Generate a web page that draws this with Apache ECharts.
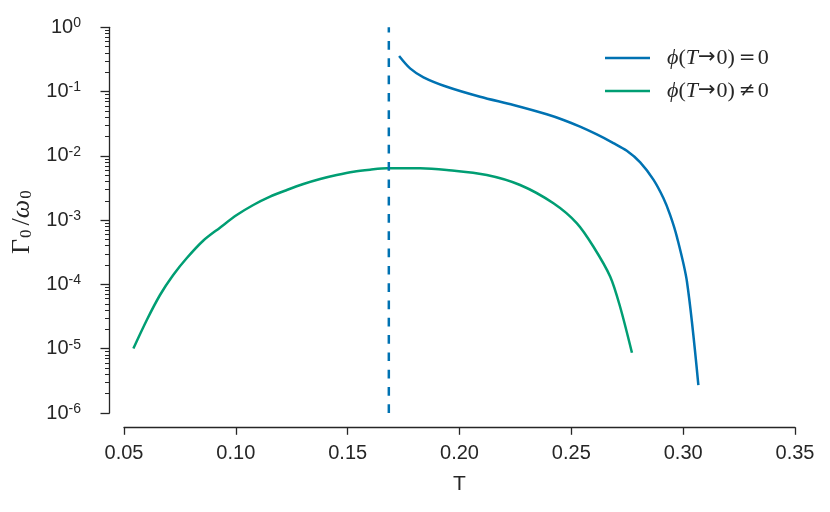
<!DOCTYPE html>
<html>
<head>
<meta charset="utf-8">
<title>Gamma0 / omega0 vs T</title>
<script src="https://cdn.jsdelivr.net/npm/echarts@6/dist/echarts.min.js"></script>
<style>
  html, body { margin: 0; padding: 0; background: #fff; }
  #chart { width: 830px; height: 512px; }
</style>
</head>
<body>
<div id="chart"></div>
<script>
// values
const tBlue = [0.1730, 0.1779, 0.1839, 0.1943, 0.2092, 0.2241, 0.2390, 0.2465, 0.2539, 0.2614,
  0.2688, 0.2748, 0.2808, 0.2867, 0.2912, 0.2942, 0.2972, 0.3017, 0.3068];
const rateBlue = [0.358, 0.230, 0.167, 0.119, 0.0832, 0.0618, 0.0443, 0.0361, 0.0284, 0.0215,
  0.0158, 0.0120, 0.00794, 0.00427, 0.00219, 0.00120, 0.000550, 0.000110, 0.00000272];

const tGreen = [0.0542, 0.0602, 0.0661, 0.0720, 0.0780, 0.0855, 0.0929, 0.1004, 0.1078,
  0.1153, 0.1228, 0.1302, 0.1377, 0.1451, 0.1526, 0.1600, 0.1675, 0.1824, 0.1943,
  0.2122, 0.2271, 0.2420, 0.2525, 0.2599, 0.2674, 0.2718, 0.2771];
const rateGreen = [1.01e-5, 2.80e-5, 6.85e-5, 1.40e-4, 2.55e-4, 4.82e-4, 7.64e-4, 1.20e-3, 1.72e-3,
  2.32e-3, 2.94e-3, 3.65e-3, 4.37e-3, 5.04e-3, 5.68e-3, 6.10e-3, 6.41e-3, 6.41e-3, 6.03e-3,
  5.04e-3, 3.52e-3, 1.83e-3, 8.93e-4, 3.86e-4, 1.32e-4, 4.50e-5, 8.67e-6];

const tCritical = 0.1684;
const criticalSpan = [1e-6, 1];

const xTicks = [0.05, 0.10, 0.15, 0.20, 0.25, 0.30, 0.35];
const yDecades = [-6, -5, -4, -3, -2, -1, 0];

const seriesNames = ['ϕ(T→0)=0', 'ϕ(T→0)≠0'];
const legendLabels = [
  '{p|ϕ}{r|(}{i|T}{a|→}{r|0)}{op|=}{r|0}',
  '{p|ϕ}{r|(}{i|T}{a|→}{r|0)}{op|≠}{r|0}'
];

const blue = '#0072B2';
const green = '#009E73';
const ink = '#262626';
const serif = 'Liberation Serif';

// matplotlib-style minor ticks 2..9 in every decade
const minorTicks = [];
for (let e = yDecades[0]; e < yDecades[yDecades.length - 1]; e++) {
  for (let k = 2; k <= 9; k++) minorTicks.push(k * Math.pow(10, e));
}

const chart = echarts.init(document.getElementById('chart'));

const yBase = {
  type: 'log',
  logBase: 10,
  min: Math.pow(10, yDecades[0]),
  max: Math.pow(10, yDecades[yDecades.length - 1]),
  interval: 1,
  position: 'left',
  offset: 14.5,
  splitLine: { show: false }
};

const option = {
  animation: false,
  backgroundColor: '#fff',
  grid: { left: 124, right: 35, top: 27.3, bottom: 99, containLabel: false, outerBoundsMode: 'none' },
  legend: {
    data: seriesNames,
    orient: 'vertical',
    left: 600,
    top: 42,
    icon: 'rect',
    itemWidth: 45,
    itemHeight: 2.5,
    itemGap: 11,
    formatter: name => legendLabels[seriesNames.indexOf(name)],
    textStyle: {
      color: ink,
      rich: {
        p: { fontFamily: serif, fontStyle: 'italic', fontSize: 22, padding: [0, 0, 0, 12] },
        i: { fontFamily: serif, fontStyle: 'italic', fontSize: 22 },
        r: { fontFamily: serif, fontSize: 22 },
        a: { fontFamily: 'DejaVu Sans', fontSize: 21, padding: [0, 1, 0, 0] },
        op: { fontFamily: 'DejaVu Sans', fontSize: 20, padding: [0, 2, 0, 4] }
      }
    }
  },
  xAxis: {
    type: 'value',
    min: xTicks[0],
    max: xTicks[xTicks.length - 1],
    interval: 0.05,
    offset: 14.3,
    name: 'T',
    nameLocation: 'middle',
    nameGap: 46,
    nameTextStyle: { color: ink, fontSize: 21, fontFamily: 'Liberation Sans' },
    axisLine: { lineStyle: { color: ink, width: 1.3 } },
    axisTick: { length: 7.5, lineStyle: { color: ink, width: 1.3 } },
    axisLabel: {
      margin: 16,
      color: ink,
      fontSize: 20,
      fontFamily: 'Liberation Sans',
      formatter: v => v.toFixed(2)
    },
    splitLine: { show: false }
  },
  yAxis: [
    Object.assign({}, yBase, {
      name: '{g|Γ}{s|0}{g|/}{w|ω}{s|0}',
      nameLocation: 'middle',
      nameGap: 70,
      nameTextStyle: {
        color: ink,
        rich: {
          g: { fontFamily: serif, fontSize: 26, lineHeight: 26 },
          w: { fontFamily: serif, fontStyle: 'italic', fontSize: 26, lineHeight: 26 },
          s: { fontFamily: serif, fontSize: 17, lineHeight: 17, padding: [12, 4, 0, 1], verticalAlign: 'bottom' }
        }
      },
      axisLine: { show: true, lineStyle: { color: ink, width: 1.3 } },
      axisTick: { length: 9, lineStyle: { color: ink, width: 1.3 } },
      axisLabel: {
        margin: 28.5,
        color: ink,
        formatter: v => '{b|10}{s|' + Math.round(Math.log10(v)) + '}',
        rich: {
          b: { fontFamily: 'Liberation Sans', fontSize: 20, lineHeight: 22 },
          s: { fontFamily: 'Liberation Sans', fontSize: 14, lineHeight: 14, padding: [0, 0, 17, 0], verticalAlign: 'top' }
        }
      }
    }),
    Object.assign({}, yBase, {
      axisLine: { show: false },
      axisLabel: { show: false },
      axisTick: { show: true, length: 4.5, customValues: minorTicks, lineStyle: { color: ink, width: 1 } }
    })
  ],
  series: [
    {
      name: seriesNames[0],
      type: 'line',
      data: tBlue.map((t, i) => [t, rateBlue[i]]),
      showSymbol: false,
      smooth: 0.3,
      lineStyle: { color: blue, width: 2.5 },
      itemStyle: { color: blue }
    },
    {
      name: seriesNames[1],
      type: 'line',
      data: tGreen.map((t, i) => [t, rateGreen[i]]),
      showSymbol: false,
      smooth: 0.3,
      lineStyle: { color: green, width: 2.5 },
      itemStyle: { color: green }
    },
    {
      name: 'critical',
      type: 'line',
      data: criticalSpan.map(v => [tCritical, v]),
      showSymbol: false,
      lineStyle: { color: blue, width: 2.5, type: [8.7, 8.6] },
      itemStyle: { color: blue }
    }
  ]
};

chart.setOption(option);
window.addEventListener('resize', () => chart.resize());
</script>
</body>
</html>
